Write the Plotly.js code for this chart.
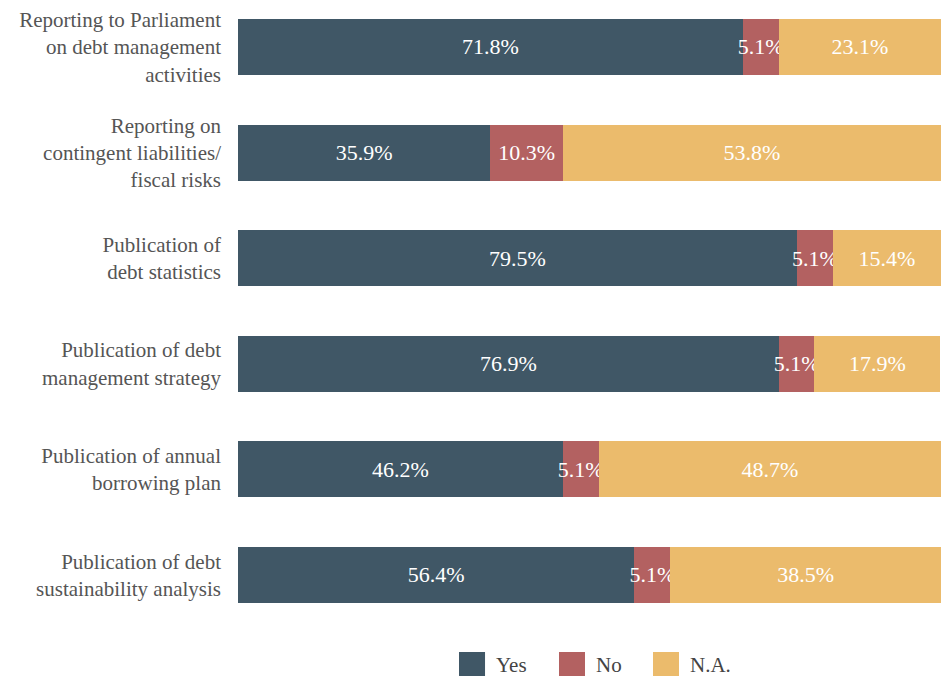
<!DOCTYPE html>
<html>
<head>
<meta charset="utf-8">
<script src="https://cdn.plot.ly/plotly-3.0.1.min.js"></script>
<style>html,body{margin:0;padding:0;background:#fff;}#chart{width:942px;height:676px;}</style>
</head>
<body>
<div id="chart"></div>
<script>
const categories = [
  "Reporting to Parliament<br>on debt management<br>activities",
  "Reporting on<br>contingent liabilities/<br>fiscal risks",
  "Publication of<br>debt statistics",
  "Publication of debt<br>management strategy",
  "Publication of annual<br>borrowing plan",
  "Publication of debt<br>sustainability analysis"
];
const seriesNames = ["Yes", "No", "N.A."];
const yesValues = [71.8, 35.9, 79.5, 76.9, 46.2, 56.4];
const noValues  = [5.1, 10.3, 5.1, 5.1, 5.1, 5.1];
const naValues  = [23.1, 53.8, 15.4, 17.9, 48.7, 38.5];
const colors = ["#405766", "#b36161", "#ebbb6c"];

const FONT = "Liberation Serif, Times New Roman, serif";
const allValues = [yesValues, noValues, naValues];

const traces = allValues.map((vals, i) => ({
  type: "bar",
  orientation: "h",
  name: seriesNames[i],
  y: categories,
  x: vals,
  width: 0.53,
  marker: {color: colors[i], line: {width: 0}},
  text: vals.map(v => v.toFixed(1) + "%"),
  texttemplate: "%{text}",
  textposition: "inside",
  insidetextanchor: "middle",
  constraintext: "none",
  textangle: 0,
  textfont: {family: FONT, size: 22, color: "#ffffff"},
  hoverinfo: "skip",
  showlegend: false
}));

// custom legend (large square swatches)
const legendX = [[0.3144, 0.3514, 0.3656], [0.4566, 0.4936, 0.5078], [0.5903, 0.6273, 0.6415]];
const shapes = seriesNames.map((n, i) => ({
  type: "rect", xref: "paper", yref: "paper",
  x0: legendX[i][0], x1: legendX[i][1], y0: -0.073, y1: -0.0349,
  fillcolor: colors[i], line: {width: 0}
}));
const annotations = seriesNames.map((n, i) => ({
  xref: "paper", yref: "paper", x: legendX[i][2] - 0.002, y: -0.0556,
  xanchor: "left", yanchor: "middle", showarrow: false, text: n,
  font: {family: FONT, size: 21, color: "#444444"}
}));

const layout = {
  width: 942, height: 676,
  margin: {l: 238, r: 1, t: 0, b: 46},
  barmode: "stack",
  paper_bgcolor: "#ffffff",
  plot_bgcolor: "#ffffff",
  showlegend: false,
  font: {family: FONT, size: 21, color: "#555555"},
  xaxis: {range: [0, 100], showgrid: false, zeroline: false, showticklabels: false, showline: false, fixedrange: true},
  yaxis: {
    type: "category",
    categoryorder: "array", categoryarray: categories,
    range: [5.521, -0.445],
    showgrid: false, zeroline: false, showline: false,
    ticks: "", ticklabelstandoff: 16,
    tickfont: {family: FONT, size: 21, color: "#555555"}
  },
  shapes: shapes,
  annotations: annotations
};

Plotly.newPlot("chart", traces, layout, {displayModeBar: false, staticPlot: true});
</script>
</body>
</html>
